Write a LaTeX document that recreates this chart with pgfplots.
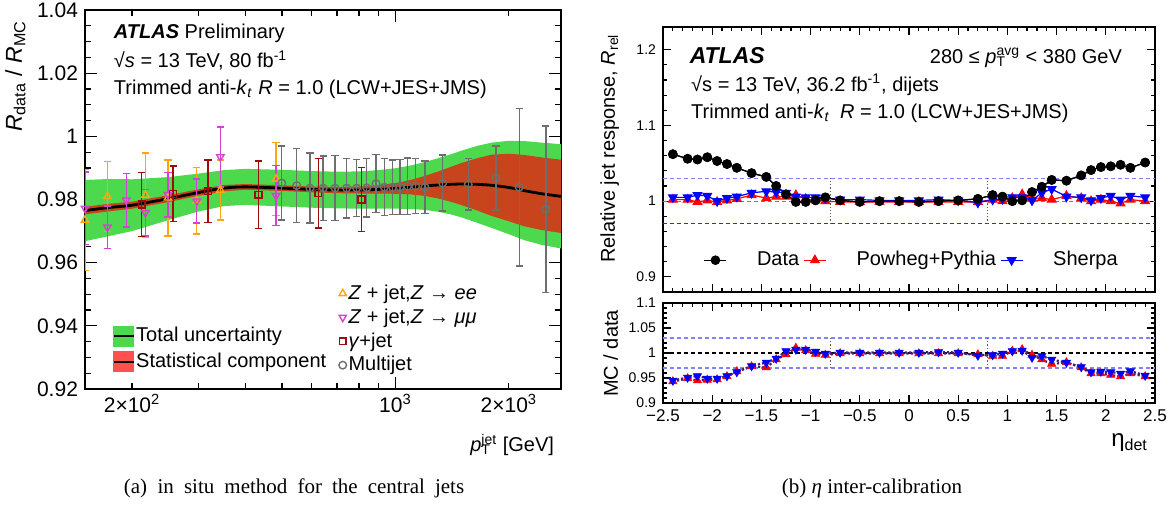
\documentclass[border=0pt]{standalone}
\usepackage{fontspec}
\setmainfont{Liberation Sans}
\newfontfamily\capfont{Liberation Serif}
\usepackage{pgfplots}
\usepackage{pgfplotstable}
\pgfplotsset{compat=1.18}

\definecolor{bandgreen}{RGB}{77,217,77}
\definecolor{bandred}{RGB}{200,68,28}
\definecolor{legred}{RGB}{255,80,80}
\definecolor{zee}{RGB}{255,165,20}
\definecolor{zmm}{RGB}{214,64,214}
\definecolor{gam}{RGB}{160,10,10}
\definecolor{mj}{RGB}{110,110,110}
\definecolor{refblueL}{RGB}{130,130,255}
\definecolor{refblueD}{RGB}{40,40,255}
\definecolor{ratioline}{RGB}{70,30,110}

\newcommand\supsub[2]{\begingroup\setbox0\hbox{\textsuperscript{#1}}\setbox2\hbox{\textsubscript{#2}}\dimen0=\wd0 \ifdim\wd2>\dimen0 \dimen0=\wd2\fi\rlap{\copy0}\rlap{\copy2}\hspace{\dimen0}\endgroup}

% central value of the in situ combination
\pgfplotstableread{
pt c
150 0.9765
175 0.9775
200 0.9782
250 0.9803
300 0.9822
350 0.9836
400 0.9840
500 0.9836
600 0.9832
700 0.9830
800 0.9830
900 0.9832
1000 0.9835
1100 0.9839
1200 0.9843
1300 0.9846
1400 0.9848
1500 0.9849
1650 0.9848
1800 0.9845
2000 0.9838
2200 0.9828
2450 0.9818
2750 0.9810
}\centtab

% total uncertainty band outline (upper edge, then lower edge backwards)
\pgfplotstableread{
pt y
150 0.9862
175 0.9865
200 0.9864
250 0.9871
300 0.9882
350 0.9893
400 0.9897
500 0.9894
600 0.9890
700 0.9888
800 0.9889
900 0.9893
1000 0.9899
1100 0.9908
1200 0.9919
1300 0.9931
1400 0.9943
1500 0.9955
1650 0.9970
1800 0.9980
2000 0.9986
2200 0.9985
2450 0.9980
2750 0.9975
2750 0.9645
2450 0.9656
2200 0.9671
2000 0.9690
1800 0.9710
1650 0.9726
1500 0.9743
1400 0.9753
1300 0.9761
1200 0.9767
1100 0.9770
1000 0.9771
900 0.9771
800 0.9771
700 0.9772
600 0.9774
500 0.9778
400 0.9783
350 0.9779
300 0.9762
250 0.9735
200 0.9700
175 0.9685
150 0.9668
}\greentab

% statistical band outline
\pgfplotstableread{
pt y
150 0.9777
175 0.9787
200 0.9793
250 0.9814
300 0.9832
350 0.9846
400 0.9849
500 0.9845
600 0.9841
700 0.9840
800 0.9841
900 0.9845
1000 0.9852
1100 0.9862
1200 0.9875
1300 0.9889
1400 0.9903
1500 0.9916
1650 0.9931
1800 0.9942
2000 0.9945
2200 0.9941
2450 0.9933
2750 0.9926
2750 0.9694
2450 0.9703
2200 0.9715
2000 0.9731
1800 0.9748
1650 0.9765
1500 0.9782
1400 0.9793
1300 0.9803
1200 0.9811
1100 0.9816
1000 0.9818
900 0.9819
800 0.9819
700 0.9820
600 0.9823
500 0.9827
400 0.9831
350 0.9826
300 0.9812
250 0.9792
200 0.9771
175 0.9763
150 0.9753
}\redtab

\pgfplotstableread{
pt y e
150 0.9735 0.0160
172 0.9810 0.0111
217 0.9814 0.0133
249 0.9805 0.0120
297 0.9796 0.0105
343 0.9830 0.0095
482 0.9865 0.0115
}\zeetab

\pgfplotstableread{
pt y e
150 0.9772 0.0115
172 0.9712 0.0068
193 0.9798 0.0085
217 0.9758 0.0073
249 0.9815 0.0070
297 0.9795 0.0070
343 0.9935 0.0095
482 0.9812 0.0095
}\zmmtab

\pgfplotstableread{
pt y e
212 0.9784 0.0101
257 0.9818 0.0088
318 0.9826 0.0099
433 0.9815 0.0107
624 0.9820 0.0110
813 0.9800 0.0101
}\gamtab

\pgfplotstableread{
pt y e
499 0.9852 0.0117
547 0.9844 0.0117
593 0.9836 0.0111
643 0.9836 0.0102
691 0.9836 0.0103
742 0.9836 0.0094
789 0.9836 0.0090
839 0.9837 0.0093
888 0.9850 0.0092
934 0.9839 0.0090
983 0.9839 0.0086
1028 0.9839 0.0087
1077 0.9842 0.0089
1131 0.9842 0.0087
1197 0.9839 0.0083
1334 0.9852 0.0089
1560 0.9848 0.0081
1848 0.9868 0.0101
2130 0.9839 0.0250
2507 0.9769 0.0264
}\mjtab

\pgfplotstableread{
eta data pow sh rpow rsh
-2.4  1.062 1.002 1.005 0.943 0.945
-2.25 1.056 1.002 1.005 0.949 0.951
-2.15 1.055 0.999 1.008 0.945 0.954
-2.05 1.058 1.001 1.007 0.946 0.949
-1.95 1.053 0.999 1.000 0.947 0.949
-1.85 1.049 1.001 1.004 0.953 0.954
-1.75 1.044 1.003 1.006 0.963 0.962
-1.6  1.037 1.008 1.011 0.973 0.974
-1.45 1.032 1.004 1.013 0.971 0.981
-1.35 1.020 1.006 1.012 0.987 0.989
-1.25 1.009 1.006 1.011 0.997 1.004
-1.15 0.999 1.008 1.006 1.010 1.007
-1.05 0.999 1.003 1.005 1.005 1.007
-0.95 1.001 1.001 1.005 0.998 1.003
-0.85 1.005 1.000 1.004 0.996 0.999
-0.7  1.001 0.999 1.002 0.999 1.001
-0.5  0.999 0.999 1.002 0.999 1.001
-0.3  1.000 0.999 1.001 0.999 1.001
-0.1  1.000 0.999 1.001 0.999 1.001
0.1   0.999 0.999 1.001 0.999 1.001
0.3   1.000 0.999 1.002 0.999 1.002
0.5   1.001 0.999 1.001 0.999 1.001
0.7   1.003 0.999 0.998 0.997 0.995
0.85  1.008 1.002 1.002 0.994 0.996
0.95  1.006 1.000 1.003 0.994 0.999
1.05  1.000 1.004 1.005 1.004 1.004
1.15  1.001 1.009 1.005 1.007 1.005
1.25  1.012 1.004 1.001 0.996 0.991
1.35  1.019 1.004 1.011 0.987 0.994
1.45  1.028 1.002 1.016 0.978 0.987
1.6   1.027 1.007 1.006 0.981 0.981
1.75  1.034 1.004 1.005 0.971 0.972
1.85  1.041 1.000 1.001 0.959 0.962
1.95  1.045 1.002 1.004 0.959 0.963
2.05  1.046 1.000 1.007 0.956 0.962
2.15  1.048 0.997 1.002 0.953 0.959
2.25  1.044 1.002 1.007 0.959 0.964
2.4   1.051 1.000 1.005 0.953 0.955
}\rtab

\pgfplotsset{
  mystyle/.style={
    scale only axis,
    anchor=south west,
    axis line style={line width=0.8pt},
    every tick/.style={black, line width=0.6pt},
    /pgf/number format/assume math mode=true,
  },
  errstyle/.style={
    error bars/.cd, y dir=both, y explicit,
    error bar style={line width=0.7pt},
    error mark options={rotate=90, mark size=1.8pt, line width=0.7pt},
  },
}

\begin{document}
\begin{tikzpicture}
\path[use as bounding box] (0,0) rectangle (588pt,252.5pt);

% ---------------- left panel ----------------
\begin{axis}[mystyle,
  at={(42.5pt,58pt)}, width=238pt, height=189.5pt,
  xmode=log, xmin=150, xmax=2750, ymin=0.92, ymax=1.04,
  xtick={1000}, xticklabels={10\textsuperscript{3}},
  extra x ticks={200,2000},
  extra x tick labels={2×10\textsuperscript{2},2×10\textsuperscript{3}},
  extra x tick style={major tick length=3pt},
  minor xtick={300,400,500,600,700,800,900},
  ytick={0.92,0.94,0.96,0.98,1,1.02,1.04},
  yticklabels={0.92,0.94,0.96,0.98,1,1.02,1.04},
  minor y tick num=3,
  major tick length=6pt, minor tick length=3pt,
  tick label style={font=\fontsize{10.5}{12}\selectfont},
  xticklabel style={yshift=1pt},
  ylabel={\textit{R}\textsubscript{data} / \textit{R}\textsubscript{MC}},
  ylabel style={at={(axis description cs:-0.11,0.99)}, anchor=south east, font=\fontsize{11.5}{13}\selectfont},
  xlabel={\textit{p}\supsub{jet}{T} [GeV]},
  xlabel style={at={(axis description cs:1,-0.1)}, anchor=north east, font=\fontsize{10}{12}\selectfont},
  legend style={at={(0.52,0.292)}, anchor=north west, draw=none, fill=none,
    font=\fontsize{10}{12}\selectfont, row sep=1.2pt, nodes={inner sep=1pt}},
  legend cell align=left,
]
\addplot[fill=bandgreen, draw=none, forget plot] table[x=pt,y=y]{\greentab} -- cycle;
\addplot[fill=bandred, draw=none, forget plot] table[x=pt,y=y]{\redtab} -- cycle;
\addplot[black, line width=1.4pt, smooth, forget plot] table[x=pt,y=c]{\centtab};

\addplot[zee, only marks, mark=triangle, mark size=2.1pt, mark options={line width=0.7pt}, errstyle]
  table[x=pt,y=y,y error=e]{\zeetab};
\addlegendentry{\textit{Z} + jet,\textit{Z} → \textit{ee}}
\addplot[zmm, only marks, mark=triangle, mark size=2.1pt, mark options={rotate=180, line width=0.7pt}, errstyle]
  table[x=pt,y=y,y error=e]{\zmmtab};
\addlegendentry{\textit{Z} + jet,\textit{Z} → \textit{μμ}}
\addplot[gam, only marks, mark=square, mark size=1.7pt, mark options={line width=0.7pt}, errstyle]
  table[x=pt,y=y,y error=e]{\gamtab};
\addlegendentry{\textit{γ}+jet}
\addplot[mj, only marks, mark=o, mark size=1.9pt, mark options={line width=0.7pt}, errstyle]
  table[x=pt,y=y,y error=e]{\mjtab};
\addlegendentry{Multijet}

\node[anchor=base west, font=\fontsize{10}{12}\selectfont] at (rel axis cs:0.046,0.926) {\textbf{\textit{ATLAS}} Preliminary};
\node[anchor=base west, font=\fontsize{10}{12}\selectfont] at (rel axis cs:0.046,0.847) {√\textit{s} = 13 TeV, 80 fb\textsuperscript{-1}};
\node[anchor=base west, font=\fontsize{10}{12}\selectfont] at (rel axis cs:0.046,0.776) {Trimmed anti-\textit{k}\textsubscript{\textit{t}} \textit{R} = 1.0 (LCW+JES+JMS)};
\end{axis}

% legend for the bands
\begin{axis}[mystyle,
  at={(42.5pt,58pt)}, width=238pt, height=189.5pt,
  hide axis, xmin=0, xmax=1, ymin=0, ymax=1,
  legend style={at={(0.045,0.18)}, anchor=north west, draw=none, fill=none,
    font=\fontsize{10}{12}\selectfont, row sep=2.2pt, nodes={inner sep=1pt}},
  legend cell align=left,
]
\addplot[draw=none, forget plot] coordinates {(0,0) (1,1)};
\addlegendimage{legend image code/.code={\fill[bandgreen] (0pt,-5pt) rectangle (10pt,5pt); \draw[black, line width=0.7pt] (0pt,0pt) -- (10pt,0pt);}}
\addlegendentry{Total uncertainty}
\addlegendimage{legend image code/.code={\fill[legred] (0pt,-5pt) rectangle (10pt,5pt); \draw[black, line width=0.7pt] (0pt,0pt) -- (10pt,0pt);}}
\addlegendentry{Statistical component}
\end{axis}

% ---------------- right top panel ----------------
\begin{axis}[mystyle,
  at={(331.5pt,106.5pt)}, width=246pt, height=132.5pt,
  xmin=-2.5, xmax=2.5, ymin=0.88, ymax=1.23,
  xtick={-2.5,-2,-1.5,-1,-0.5,0,0.5,1,1.5,2,2.5}, xticklabels={},
  minor x tick num=4,
  ytick={0.9,1,1.1,1.2}, yticklabels={0.9,1,1.1,1.2},
  minor y tick num=4,
  major tick length=4pt, minor tick length=2pt,
  yticklabel style={font=\fontsize{7}{8}\selectfont},
  ylabel={Relative jet response, \textit{R}\textsubscript{rel}},
  ylabel style={at={(axis description cs:-0.075,1)}, anchor=south east, font=\fontsize{10}{12}\selectfont},
  legend columns=3,
  legend style={at={(0.07,0.12)}, anchor=west, draw=none, fill=none,
    font=\fontsize{10}{12}\selectfont, /tikz/every odd column/.append style={column sep=13pt}},
  legend image code/.code={\draw[mark repeat=2,mark phase=2,#1] plot coordinates {(0pt,0pt) (5.5pt,0pt) (11pt,0pt)};},
]
\addplot[refblueL, line width=0.6pt, dash pattern=on 2pt off 1.5pt, forget plot] coordinates {(-2.5,1.03) (2.5,1.03)};
\addplot[refblueD, line width=0.6pt, dash pattern=on 2pt off 1.5pt, forget plot] coordinates {(-2.5,0.97) (2.5,0.97)};
\addplot[gray, line width=0.6pt, dash pattern=on 2pt off 1.5pt, forget plot] coordinates {(-2.5,1) (2.5,1)};
\addplot[gray!70!black, line width=0.6pt, densely dotted, forget plot] coordinates {(-0.8,0.97) (-0.8,1.03)};
\addplot[gray!70!black, line width=0.6pt, densely dotted, forget plot] coordinates {(0.8,0.97) (0.8,1.03)};

\addplot[black, line width=0.6pt, mark=*, mark size=2.1pt] table[x=eta,y=data]{\rtab};
\addlegendentry{Data}
\addplot[red, line width=0.6pt, mark=triangle*, mark size=2.4pt] table[x=eta,y=pow]{\rtab};
\addlegendentry{Powheg+Pythia}
\addplot[blue, line width=0.6pt, mark=triangle*, mark size=2.4pt, mark options={rotate=180}] table[x=eta,y=sh]{\rtab};
\addlegendentry{Sherpa}
\addplot[black, line width=0.6pt, mark=*, mark size=2.1pt, forget plot] table[x=eta,y=data]{\rtab};

\node[anchor=base west, font=\fontsize{11.5}{13}\selectfont\bfseries\itshape] at (rel axis cs:0.04,0.864) {ATLAS};
\node[anchor=base east, font=\fontsize{10}{12}\selectfont] at (rel axis cs:0.947,0.864) {280 ≤ \textit{p}\supsub{avg}{T} < 380 GeV};
\node[anchor=base west, font=\fontsize{10}{12}\selectfont] at (rel axis cs:0.043,0.758) {√s = 13 TeV, 36.2 fb\textsuperscript{-1}, dijets};
\node[anchor=base west, font=\fontsize{10}{12}\selectfont] at (rel axis cs:0.043,0.653) {Trimmed anti-\textit{k}\textsubscript{\textit{t}}\enspace\textit{R} = 1.0 (LCW+JES+JMS)};
\end{axis}

% ---------------- right bottom panel ----------------
\begin{axis}[mystyle,
  at={(331.5pt,51pt)}, width=246pt, height=50pt,
  xmin=-2.5, xmax=2.5, ymin=0.9, ymax=1.1,
  xtick={-2.5,-2,-1.5,-1,-0.5,0,0.5,1,1.5,2,2.5},
  xticklabels={−2.5,−2,−1.5,−1,−0.5,0,0.5,1,1.5,2,2.5},
  minor x tick num=4,
  ytick={0.9,0.95,1,1.05,1.1}, yticklabels={0.9,0.95,1,1.05,1.1},
  minor y tick num=4,
  major tick length=4pt, minor tick length=2pt,
  yticklabel style={font=\fontsize{7}{8}\selectfont},
  xticklabel style={font=\fontsize{8.5}{10}\selectfont},
  ylabel={MC / data},
  ylabel style={at={(axis description cs:-0.077,1)}, anchor=south east, font=\fontsize{10}{12}\selectfont},
  xlabel={η\textsubscript{det}},
  xlabel style={at={(axis description cs:1,-0.24)}, anchor=north east, font=\fontsize{12}{14}\selectfont},
]
\addplot[refblueL, line width=0.6pt, dash pattern=on 2pt off 1.5pt] coordinates {(-2.5,1.03) (2.5,1.03)};
\addplot[refblueL, line width=0.6pt, dash pattern=on 2pt off 1.5pt] coordinates {(-2.5,0.97) (2.5,0.97)};
\addplot[black, line width=0.6pt, dash pattern=on 2pt off 1.5pt] coordinates {(-2.5,1) (2.5,1)};
\addplot[gray!70!black, line width=0.6pt, densely dotted] coordinates {(-0.8,0.97) (-0.8,1.03)};
\addplot[gray!70!black, line width=0.6pt, densely dotted] coordinates {(0.8,0.97) (0.8,1.03)};
\addplot[ratioline, line width=1.1pt, densely dotted, mark=triangle*, mark size=2.4pt,
  mark options={solid, draw=red, fill=red, line width=0.3pt}] table[x=eta,y=rpow]{\rtab};
\addplot[ratioline, line width=1.1pt, densely dotted, mark=triangle*, mark size=2.4pt,
  mark options={solid, draw=blue, fill=blue, rotate=180, line width=0.3pt}] table[x=eta,y=rsh]{\rtab};
\end{axis}

\node[font=\capfont\fontsize{10.5}{12}\selectfont] at (147pt,8.5pt) {\spaceskip=0.48em (a)\enspace in situ method for the central jets};
\node[font=\capfont\fontsize{10.5}{12}\selectfont] at (436pt,8.5pt) {(b) \textit{η} inter-calibration};
\end{tikzpicture}
\end{document}
